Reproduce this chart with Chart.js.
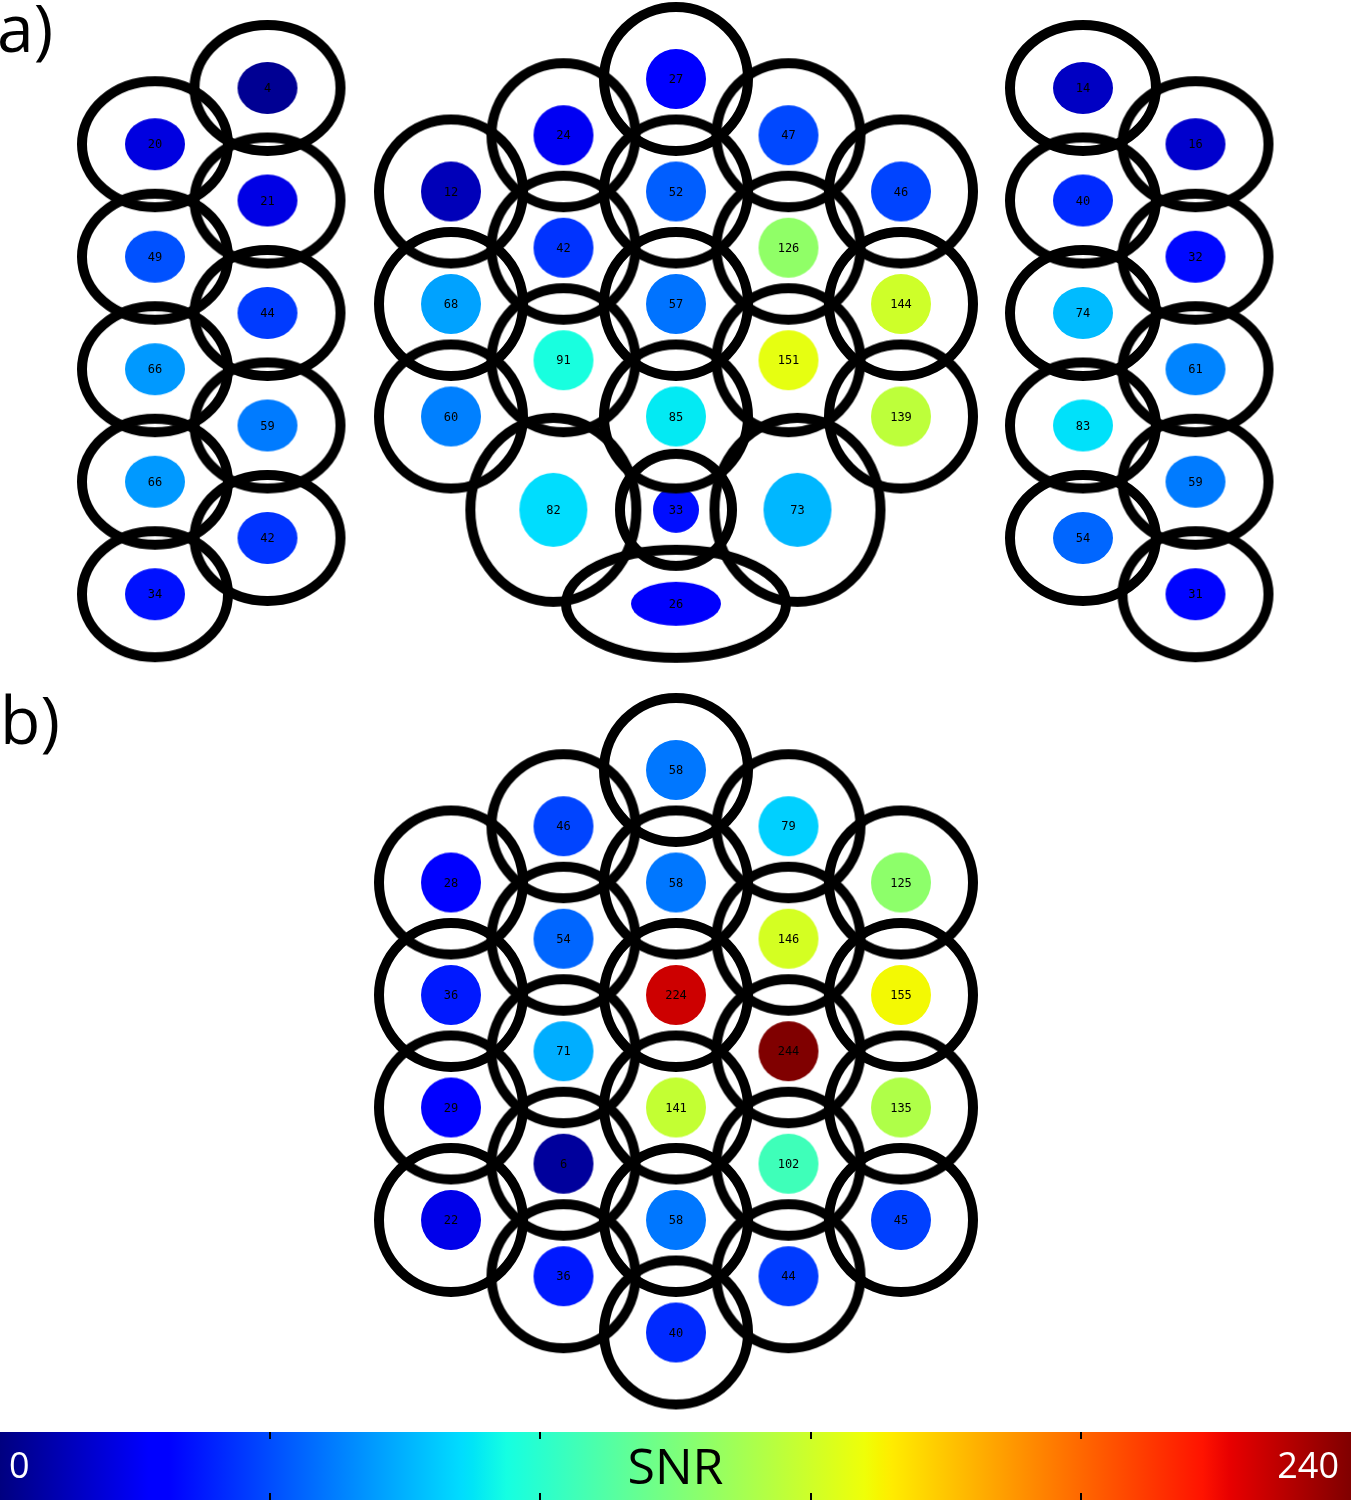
<!DOCTYPE html>
<html>
<head>
<meta charset="utf-8">
<title>Coil SNR maps</title>
<script src="https://cdn.jsdelivr.net/npm/chart.js@4.4.1/dist/chart.umd.min.js"></script>
<style>
  html, body { margin: 0; padding: 0; background: #fff; }
  canvas { display: block; }
</style>
</head>
<body>
<canvas id="coils" width="1351" height="1432"></canvas>
<canvas id="colorbar" width="1351" height="68"></canvas>
<script>
// SNR, one array per coil group
const snrLeft = [20, 49, 66, 66, 34, 4, 21, 44, 59, 42];
const snrRight = [14, 40, 74, 83, 54, 16, 32, 61, 59, 31];
const snrHeadHex = [12, 68, 60, 24, 42, 91, 27, 52, 57, 85, 47, 126, 151, 46, 144, 139];
const snrHeadLow = [82, 33, 73, 26];
const snrArray = [28, 36, 29, 22, 46, 54, 71, 6, 36, 58, 58, 224, 141, 58, 40, 79, 146, 244, 102, 44, 125, 155, 135, 45];
const snrRange = [0, 240];
const colorbarTicks = [0, 48, 96, 144, 192, 240];

// layout: (column, half-row) of every element, same order as the SNR arrays
const leftCells = [[0, 1], [0, 3], [0, 5], [0, 7], [0, 9], [1, 0], [1, 2], [1, 4], [1, 6], [1, 8]];
const rightCells = [[0, 0], [0, 2], [0, 4], [0, 6], [0, 8], [1, 1], [1, 3], [1, 5], [1, 7], [1, 9]];
const headHexCells = [
  [0, 2], [0, 4], [0, 6], [1, 1], [1, 3], [1, 5], [2, 0], [2, 2], [2, 4], [2, 6],
  [3, 1], [3, 3], [3, 5], [4, 2], [4, 4], [4, 6]
];
const headLowCells = [[0.91, 7.66], [2, 7.66], [3.08, 7.66], [2, 9.33]];
const arrayCells = [
  [0, 2], [0, 4], [0, 6], [0, 8],
  [1, 1], [1, 3], [1, 5], [1, 7], [1, 9],
  [2, 0], [2, 2], [2, 4], [2, 6], [2, 8], [2, 10],
  [3, 1], [3, 3], [3, 5], [3, 7], [3, 9],
  [4, 2], [4, 4], [4, 6], [4, 8]
];

const PITCH_X = 112.5;
const PITCH_Y = 56.25;
const LINE = 10;

const groups = [
  { origin: [155, 88], cells: leftCells, snr: snrLeft, ring: [73, 63], fill: [30, 26] },
  { origin: [1083, 88], cells: rightCells, snr: snrRight, ring: [73, 63], fill: [30, 26] },
  { origin: [451, 79], cells: headHexCells, snr: snrHeadHex, ring: [72, 72], fill: [30, 30] },
  {
    origin: [451, 79], cells: headLowCells, snr: snrHeadLow,
    ring: [[83, 92], [56, 56], [83, 92], [110, 54]],
    fill: [[34, 37], [23, 23], [34, 37], [45, 22]]
  },
  { origin: [451, 770], cells: arrayCells, snr: snrArray, ring: [72, 72], fill: [30, 30] }
];

// matplotlib "jet" segments: [position, value]
const JET = {
  r: [[0, 0], [0.35, 0], [0.66, 1], [0.89, 1], [1, 0.5]],
  g: [[0, 0], [0.125, 0], [0.375, 1], [0.64, 1], [0.91, 0], [1, 0]],
  b: [[0, 0.5], [0.11, 1], [0.34, 1], [0.65, 0], [1, 0]],
};

function channel(segs, t) {
  for (let i = 1; i < segs.length; i++) {
    if (t <= segs[i][0]) {
      const [x0, y0] = segs[i - 1];
      const [x1, y1] = segs[i];
      return y0 + ((t - x0) / (x1 - x0)) * (y1 - y0);
    }
  }
  return segs[segs.length - 1][1];
}

function jetAt(t) {
  t = Math.min(Math.max(t, 0), 1);
  const c = (k) => Math.round(255 * channel(JET[k], t));
  return `rgb(${c("r")}, ${c("g")}, ${c("b")})`;
}

function jet(v) {
  return jetAt((v - snrRange[0]) / (snrRange[1] - snrRange[0]));
}

function ellipseImage(rx, ry, fill, stroke) {
  const pad = LINE / 2 + 2;
  const c = document.createElement("canvas");
  c.width = 2 * Math.ceil(rx + pad);
  c.height = 2 * Math.ceil(ry + pad);
  const g = c.getContext("2d");
  g.beginPath();
  g.ellipse(c.width / 2, c.height / 2, rx, ry, 0, 0, 2 * Math.PI);
  if (fill) {
    g.fillStyle = fill;
    g.fill();
  }
  if (stroke) {
    g.lineWidth = LINE;
    g.strokeStyle = stroke;
    g.stroke();
  }
  return c;
}

const ringPoints = [];
const ringStyles = [];
const fillPoints = [];
const fillStyles = [];
const fillValues = [];

groups.forEach((grp) => {
  grp.cells.forEach(([col, row], i) => {
    const pt = { x: grp.origin[0] + col * PITCH_X, y: grp.origin[1] + row * PITCH_Y };
    const ring = Array.isArray(grp.ring[0]) ? grp.ring[i] : grp.ring;
    const fill = Array.isArray(grp.fill[0]) ? grp.fill[i] : grp.fill;
    ringPoints.push(pt);
    ringStyles.push(ellipseImage(ring[0], ring[1], null, "#000"));
    fillPoints.push(pt);
    fillStyles.push(ellipseImage(fill[0], fill[1], jet(grp.snr[i]), null));
    fillValues.push(grp.snr[i]);
  });
});

const snrLabels = {
  id: "snrLabels",
  afterDatasetsDraw: (chart) => {
    const { ctx } = chart;
    const meta = chart.getDatasetMeta(1);

    ctx.save();
    ctx.fillStyle = "#000";
    ctx.font = '12px "DejaVu Sans Mono"';
    ctx.textAlign = "center";
    ctx.textBaseline = "middle";
    meta.data.forEach((pt, i) => {
      ctx.fillText(String(fillValues[i]), pt.x, pt.y + 1);
    });

    ctx.font = '66px "Open Sans"';
    ctx.textAlign = "left";
    ctx.textBaseline = "alphabetic";
    ctx.fillText("a)", -3, 52);
    ctx.fillText("b)", 0, 744);
    ctx.restore();
  },
};

new Chart(document.getElementById("coils"), {
  type: "scatter",
  data: {
    datasets: [
      {
        label: "coils",
        data: ringPoints,
        pointStyle: (c) => ringStyles[c.dataIndex] || "circle",
        pointRadius: 1,
        showLine: false,
      },
      {
        label: "SNR",
        data: fillPoints,
        pointStyle: (c) => fillStyles[c.dataIndex] || "circle",
        pointRadius: 1,
        showLine: false,
      },
    ],
  },
  plugins: [snrLabels],
  options: {
    responsive: false,
    animation: false,
    events: [],
    layout: { padding: 0, autoPadding: false },
    plugins: {
      legend: { display: false },
      tooltip: { enabled: false },
    },
    scales: {
      x: { type: "linear", min: 0, max: 1351, display: false },
      y: { type: "linear", min: 0, max: 1432, reverse: true, display: false },
    },
  },
});

function getGradient(ctx, chartArea) {
  const gradient = ctx.createLinearGradient(chartArea.left, 0, chartArea.right, 0);
  const stops = new Set();
  Object.values(JET).forEach((segs) => segs.forEach(([t]) => stops.add(t)));
  [...stops].sort((a, b) => a - b).forEach((t) => {
    gradient.addColorStop(t, jetAt(t));
  });
  return gradient;
}

const colorbarMarks = {
  id: "colorbarMarks",
  afterDatasetsDraw: (chart) => {
    const { ctx, chartArea, scales } = chart;

    ctx.save();
    ctx.fillStyle = "#000";
    colorbarTicks.slice(1, -1).forEach((v) => {
      const px = Math.round(scales.x.getPixelForValue(v));
      ctx.fillRect(px - 1, chartArea.top, 2, 7);
      ctx.fillRect(px - 1, chartArea.bottom - 7, 2, 7);
    });

    ctx.textBaseline = "alphabetic";
    ctx.font = '36px "Open Sans"';
    ctx.fillStyle = "#fff";
    ctx.textAlign = "left";
    ctx.fillText(String(colorbarTicks[0]), chartArea.left + 9, chartArea.top + 46);
    ctx.textAlign = "right";
    ctx.fillText(String(colorbarTicks[colorbarTicks.length - 1]), chartArea.right - 12, chartArea.top + 46);

    ctx.font = '50px "Open Sans"';
    ctx.fillStyle = "#000";
    ctx.textAlign = "center";
    ctx.fillText("SNR", (chartArea.left + chartArea.right) / 2, chartArea.top + 52);
    ctx.restore();
  },
};

new Chart(document.getElementById("colorbar"), {
  type: "bar",
  data: {
    labels: ["SNR"],
    datasets: [
      {
        data: [snrRange],
        backgroundColor: (context) => {
          const { ctx, chartArea } = context.chart;
          if (!chartArea) {
            return null;
          }
          return getGradient(ctx, chartArea);
        },
        borderWidth: 0,
        barPercentage: 1,
        categoryPercentage: 1,
      },
    ],
  },
  plugins: [colorbarMarks],
  options: {
    indexAxis: "y",
    responsive: false,
    animation: false,
    events: [],
    layout: { padding: 0, autoPadding: false },
    plugins: {
      legend: { display: false },
      tooltip: { enabled: false },
    },
    scales: {
      x: { min: snrRange[0], max: snrRange[1], display: false },
      y: { display: false },
    },
  },
});
</script>
</body>
</html>
